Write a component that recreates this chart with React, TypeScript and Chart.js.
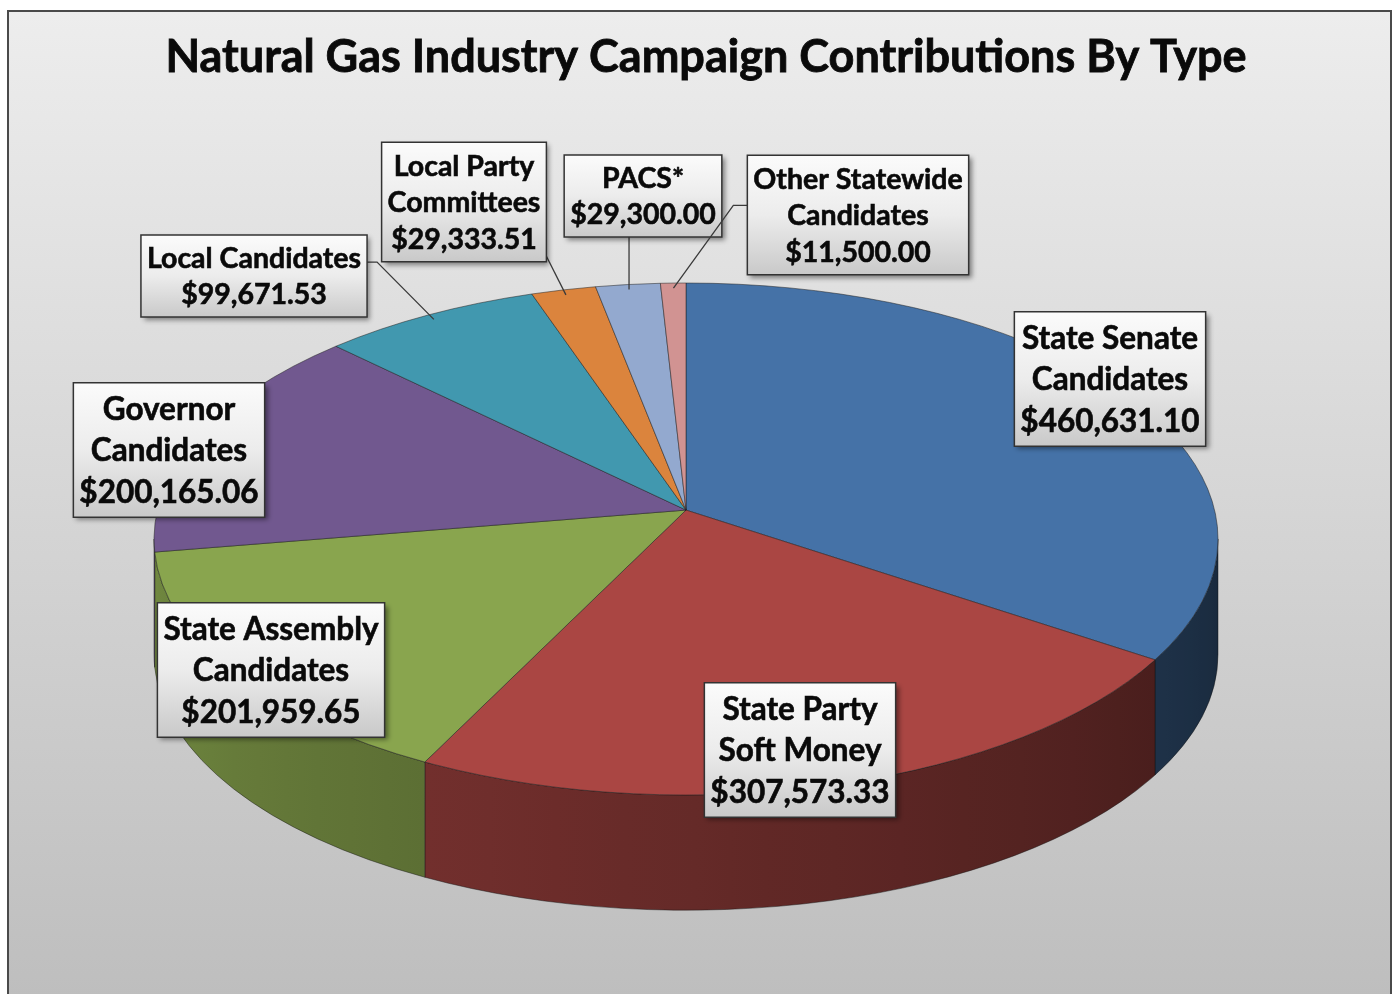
import React, { useEffect, useRef } from "react";
import { Chart, registerables } from "chart.js";

Chart.register(...registerables);

const titleText = "Natural Gas Industry Campaign Contributions By Type";
const categories = [
  "State Senate Candidates",
  "State Party Soft Money",
  "State Assembly Candidates",
  "Governor Candidates",
  "Local Candidates",
  "Local Party Committees",
  "PACS*",
  "Other Statewide Candidates",
];
const labelLines = [
  ["State Senate", "Candidates"],
  ["State Party", "Soft Money"],
  ["State Assembly", "Candidates"],
  ["Governor", "Candidates"],
  ["Local Candidates"],
  ["Local Party", "Committees"],
  ["PACS*"],
  ["Other Statewide", "Candidates"],
];
const amounts = [460631.1, 307573.33, 201959.65, 200165.06, 99671.53, 29333.51, 29300.0, 11500.0];
const sliceColors = ["#4572A7", "#AA4643", "#89A54E", "#71588F", "#4198AF", "#DB843D", "#93A9CF", "#D19392"];

// layout only (label box centres, font sizes, line heights, leader style)
const labelLayout = [
  { cx: 1110, cy: 379, size: 31.5, lh: 41.5, leader: "none", at: 0 },
  { cx: 800, cy: 750, size: 31.5, lh: 41.5, leader: "none", at: 0 },
  { cx: 271, cy: 670, size: 31.5, lh: 41.5, leader: "none", at: 0 },
  { cx: 169, cy: 450, size: 31.5, lh: 41.5, leader: "none", at: 0 },
  { cx: 254, cy: 276, size: 28.5, lh: 36, leader: "right", at: 0.33 },
  { cx: 464, cy: 202, size: 28.5, lh: 36.5, leader: "corner", at: 0.92 },
  { cx: 643, cy: 196, size: 28.5, lh: 36, leader: "bottom", at: 0 },
  { cx: 858, cy: 215, size: 28.5, lh: 36.5, leader: "left", at: 0.42 },
];

const FONT = "Lato, 'Open Sans', sans-serif";
const DEPTH_RATIO = 0.45;
const PERSPECTIVE = 0.113;

function fmtMoney(v: number) {
  return "$" + v.toLocaleString("en-US", { minimumFractionDigits: 2, maximumFractionDigits: 2 });
}

function hexToRgb(h: string) {
  const n = parseInt(h.slice(1), 16);
  return [(n >> 16) & 255, (n >> 8) & 255, n & 255];
}
function shadeColor(h: string, f: number) {
  const [r, g, b] = hexToRgb(h);
  return `rgb(${Math.round(r * f)},${Math.round(g * f)},${Math.round(b * f)})`;
}
function wallShade(a: number) {
  return 0.36 + 0.15 * a;
}

// perspective: map a true pie angle onto the parametric angle of the screen ellipse
function projAngle(theta: number) {
  const e = PERSPECTIVE;
  const s = Math.sin(theta);
  const d = 1 - e * s;
  const x = (Math.cos(theta) * Math.sqrt(1 - e * e)) / d;
  const y = (s - e) / d;
  let t = Math.atan2(y, x);
  while (t < theta - Math.PI) t += 2 * Math.PI;
  while (t > theta + Math.PI) t -= 2 * Math.PI;
  return t;
}

function geometry(chart: any) {
  const meta = chart.getDatasetMeta(0);
  const area = chart.chartArea;
  const arcs = meta.data.map((el: any) =>
    el.getProps(["x", "y", "startAngle", "endAngle", "outerRadius"], true)
  );
  if (!arcs.length) return null;
  const cx = arcs[0].x;
  const cy = arcs[0].y;
  const rx = (area.right - area.left) / 2;
  const ry = arcs[0].outerRadius;
  return { arcs, cx, cy, rx, ry };
}

const pie3d = {
  id: "pie3d",
  beforeDatasetsDraw(chart: any) {
    const ctx = chart.ctx as CanvasRenderingContext2D;
    const geo = geometry(chart);
    if (!geo) return false;
    const { arcs, cx, cy, rx, ry } = geo;
    const depth = ry * DEPTH_RATIO;
    const vx = cx;
    const vy = cy - ry * PERSPECTIVE;
    const colors = chart.data.datasets[0].backgroundColor as string[];

    ctx.save();
    // side walls (front half only)
    arcs.forEach((a: any, i: number) => {
      const t1 = projAngle(a.startAngle);
      const t2 = projAngle(a.endAngle);
      const a1 = Math.max(t1, 0);
      const a2 = Math.min(t2, Math.PI);
      if (a2 <= a1) return;
      const xR = cx + rx * Math.cos(a1);
      const xL = cx + rx * Math.cos(a2);
      let fill: any = shadeColor(colors[i], wallShade((a1 + a2) / 2));
      if (xR - xL > 1) {
        const g = ctx.createLinearGradient(xL, 0, xR, 0);
        const stops: [number, string][] = [];
        for (let k = 0; k <= 12; k++) {
          const ang = a1 + ((a2 - a1) * k) / 12;
          const x = cx + rx * Math.cos(ang);
          stops.push([(x - xL) / (xR - xL), shadeColor(colors[i], wallShade(ang))]);
        }
        stops.sort((p, q) => p[0] - q[0]);
        stops.forEach(([t, c]) => g.addColorStop(Math.min(1, Math.max(0, t)), c));
        fill = g;
      }
      ctx.beginPath();
      ctx.ellipse(cx, cy, rx, ry, 0, a1, a2, false);
      ctx.lineTo(cx + rx * Math.cos(a2), cy + ry * Math.sin(a2) + depth);
      ctx.ellipse(cx, cy + depth, rx, ry, 0, a2, a1, true);
      ctx.closePath();
      ctx.fillStyle = fill;
      ctx.fill();
      ctx.lineWidth = 1;
      ctx.strokeStyle = "rgba(20,20,20,0.45)";
      ctx.stroke();
    });
    // top faces
    arcs.forEach((a: any, i: number) => {
      const t1 = projAngle(a.startAngle);
      const t2 = projAngle(a.endAngle);
      ctx.beginPath();
      ctx.moveTo(vx, vy);
      ctx.lineTo(cx + rx * Math.cos(t1), cy + ry * Math.sin(t1));
      ctx.ellipse(cx, cy, rx, ry, 0, t1, t2, false);
      ctx.closePath();
      ctx.fillStyle = colors[i];
      ctx.fill();
      ctx.lineWidth = 1;
      ctx.strokeStyle = "rgba(30,30,30,0.5)";
      ctx.stroke();
    });
    ctx.restore();
    return false;
  },
  afterDraw(chart: any) {
    const ctx = chart.ctx as CanvasRenderingContext2D;
    // title
    ctx.save();
    ctx.font = `bold 45px ${FONT}`;
    ctx.fillStyle = "#0a0a0a";
    ctx.strokeStyle = "#0a0a0a";
    ctx.lineWidth = 0.8;
    ctx.textAlign = "center";
    ctx.textBaseline = "alphabetic";
    ctx.fillText(titleText, 706, 72);
    ctx.strokeText(titleText, 706, 72);
    ctx.restore();

    const geo = geometry(chart);
    if (!geo) return;
    const { arcs, cx, cy, rx, ry } = geo;
    const values = chart.data.datasets[0].data as number[];

    ctx.save();
    labelLayout.forEach((L, i) => {
      const lines = [...labelLines[i], fmtMoney(values[i])];
      ctx.font = `bold ${L.size}px ${FONT}`;
      const maxW = Math.max(...lines.map((t) => ctx.measureText(t).width));
      const lh = L.lh;
      const padX = 6;
      const padY = 5;
      const w = maxW + padX * 2;
      const h = lh * lines.length + padY * 2;
      const left = L.cx - w / 2;
      const top = L.cy - h / 2;

      // leader line
      if (L.leader !== "none") {
        const a = arcs[i];
        const mid = projAngle((a.startAngle + a.endAngle) / 2);
        const tx = cx + rx * 0.98 * Math.cos(mid);
        const ty = cy + ry * 0.98 * Math.sin(mid);
        ctx.beginPath();
        if (L.leader === "right") {
          const sy = top + h * L.at;
          ctx.moveTo(left + w, sy);
          ctx.lineTo(left + w + 10, sy);
        } else if (L.leader === "left") {
          const sy = top + h * L.at;
          ctx.moveTo(left, sy);
          ctx.lineTo(left - 14, sy);
        } else if (L.leader === "bottom") {
          ctx.moveTo(tx, top + h);
        } else {
          ctx.moveTo(left + w - 2, top + h * L.at);
        }
        ctx.lineTo(tx, ty);
        ctx.lineWidth = 1.3;
        ctx.strokeStyle = "#3a3a3a";
        ctx.stroke();
      }

      // box
      ctx.save();
      ctx.shadowColor = "rgba(0,0,0,0.45)";
      ctx.shadowBlur = 5;
      ctx.shadowOffsetX = 3;
      ctx.shadowOffsetY = 3;
      const g = ctx.createLinearGradient(0, top, 0, top + h);
      g.addColorStop(0, "#fbfbfb");
      g.addColorStop(0.5, "#ececec");
      g.addColorStop(1, "#c9c9c9");
      ctx.fillStyle = g;
      ctx.fillRect(left, top, w, h);
      ctx.restore();
      ctx.lineWidth = 1.5;
      ctx.strokeStyle = "#333333";
      ctx.strokeRect(left, top, w, h);

      ctx.fillStyle = "#0a0a0a";
      ctx.strokeStyle = "#0a0a0a";
      ctx.lineWidth = 0.6;
      ctx.textAlign = "center";
      ctx.textBaseline = "middle";
      lines.forEach((t, k) => {
        const y = top + padY + lh * (k + 0.5) + 1;
        ctx.fillText(t, L.cx, y);
        ctx.strokeText(t, L.cx, y);
      });
    });
    ctx.restore();
  },
};

export default function App() {
  const ref = useRef<HTMLCanvasElement | null>(null);
  useEffect(() => {
    document.body.style.margin = "0";
    if (!ref.current) return;
    const chart = new Chart(ref.current, {
      type: "pie",
      data: {
        labels: categories,
        datasets: [
          {
            data: amounts,
            backgroundColor: sliceColors,
            borderWidth: 0,
          },
        ],
      },
      options: {
        animation: false,
        responsive: false,
        layout: { padding: { left: 154, right: 177, top: 283, bottom: 199 } },
        plugins: {
          legend: { display: false },
          tooltip: { enabled: false },
          title: { display: false, text: titleText },
        },
      },
      plugins: [pie3d],
    });
    return () => chart.destroy();
  }, []);

  return (
    <div style={{ position: "relative", width: 1395, height: 994, overflow: "hidden", background: "#ffffff" }}>
      <div
        style={{
          position: "absolute",
          left: 7,
          top: 10,
          width: 1385,
          height: 1100,
          boxSizing: "border-box",
          border: "2px solid #4a4a4a",
          background: "linear-gradient(to bottom, #ededed 0px, #bebebe 984px, #bebebe 1100px)",
        }}
      />
      <canvas ref={ref} width={1395} height={994} style={{ position: "absolute", left: 0, top: 0 }} />
    </div>
  );
}
